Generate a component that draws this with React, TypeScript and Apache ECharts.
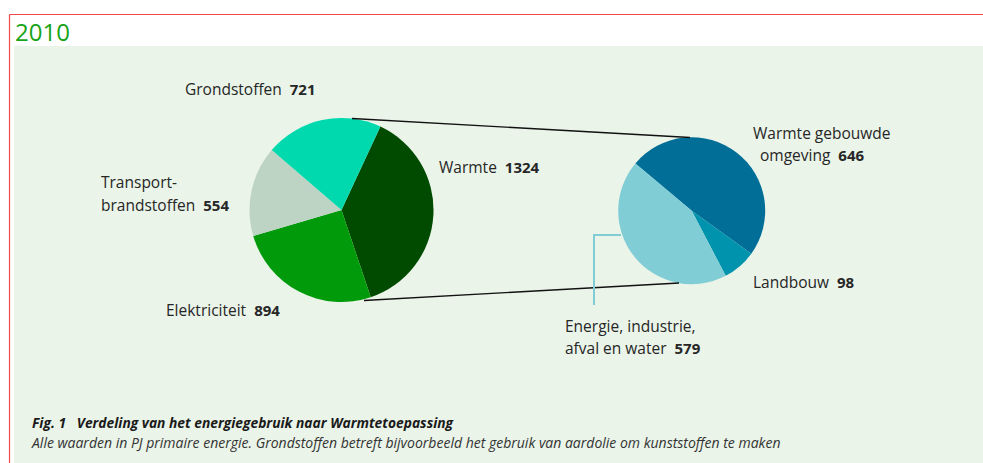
import React, { useEffect, useRef } from "react";
import * as echarts from "echarts";

// ---- data ----
const leftCategories = ["Warmte", "Elektriciteit", "Transportbrandstoffen", "Grondstoffen"];
const leftValues = [1324, 894, 554, 721];
const rightCategories = ["Warmte gebouwde omgeving", "Landbouw", "Energie, industrie, afval en water"];
const rightValues = [646, 98, 579];
// label lines (text split for display)
const leftLabelLines = [["Warmte"], ["Elektriciteit"], ["Transport-", "brandstoffen"], ["Grondstoffen"]];
const rightLabelLines = [["Warmte gebouwde", "omgeving"], ["Landbouw"], ["Energie, industrie,", "afval en water"]];
const titleText = "2010";
const captionTitle = "Fig. 1   Verdeling van het energiegebruik naar Warmtetoepassing";
const captionText =
  "Alle waarden in PJ primaire energie. Grondstoffen betreft bijvoorbeeld het gebruik van aardolie om kunststoffen te maken";

// ---- styles / layout ----
const leftColors = ["#004b00", "#009a0a", "#bdd3c4", "#00d9ae"];
const rightColors = ["#006e96", "#0093ad", "#80cdd6"];
const leftLabelPos = [
  [[439, 167]],
  [[166, 310]],
  [[101, 182], [101, 205]],
  [[185, 89]],
];
const rightLabelPos = [
  [[753, 133], [760, 155]],
  [[753, 282]],
  [[565, 326], [565, 348]],
];
const textColor = "#262626";
const labelFont = "'Open Sans', 'Noto Sans', sans-serif";

function labelGraphics(lines: string[][], values: number[], pos: number[][][]) {
  const out: any[] = [];
  lines.forEach((ls, i) => {
    ls.forEach((ln, j) => {
      const last = j === ls.length - 1;
      out.push({
        type: "text",
        x: pos[i][j][0],
        y: pos[i][j][1],
        silent: true,
        style: {
          text: last ? `{n|${ln}}{v|${values[i]}}` : `{n|${ln}}`,
          align: "left",
          verticalAlign: "middle",
          rich: {
            n: { fontFamily: labelFont, fontSize: 15.5, fill: textColor, padding: [0, 8, 0, 0] },
            v: { fontFamily: labelFont, fontSize: 15, fontWeight: "bold", fill: textColor },
          },
        },
      });
    });
  });
  return out;
}

export default function App() {
  const ref = useRef<HTMLDivElement>(null);
  useEffect(() => {
    if (!ref.current) return;
    const chart = echarts.init(ref.current, null, { renderer: "svg" });
    const option: any = {
      animation: false,
      backgroundColor: "#ffffff",
      graphic: [
        { type: "rect", z: -10, silent: true, shape: { x: 14, y: 46, width: 983, height: 430 }, style: { fill: "#eaf4e9" } },
        { type: "line", silent: true, shape: { x1: 9.5, y1: 14.5, x2: 990, y2: 14.5 }, style: { stroke: "#f24a4a", lineWidth: 1.2 } },
        { type: "line", silent: true, shape: { x1: 9.5, y1: 14.5, x2: 9.5, y2: 470 }, style: { stroke: "#f24a4a", lineWidth: 1.2 } },
        {
          type: "text", x: 15, y: 31, silent: true,
          style: { text: titleText, fontFamily: labelFont, fontSize: 24, fill: "#17a317", verticalAlign: "middle" },
        },
        { type: "line", silent: true, z: 5, shape: { x1: 352, y1: 118.5, x2: 690, y2: 137.5 }, style: { stroke: "#111", lineWidth: 1.3 } },
        { type: "line", silent: true, z: 5, shape: { x1: 364, y1: 300.5, x2: 679, y2: 283 }, style: { stroke: "#111", lineWidth: 1.3 } },
        {
          type: "polyline", silent: true, z: 5,
          shape: { points: [[621, 235], [594, 235], [594, 305]] },
          style: { stroke: "#80cdd6", lineWidth: 2, fill: null },
        },
        ...labelGraphics(leftLabelLines, leftValues, leftLabelPos),
        ...labelGraphics(rightLabelLines, rightValues, rightLabelPos),
        {
          type: "text", x: 32, y: 422, scaleX: 0.92, silent: true,
          style: {
            text: captionTitle, fontFamily: labelFont, fontSize: 15, fontWeight: "bold", fontStyle: "italic",
            fill: "#1a1a1a", verticalAlign: "middle",
          },
        },
        {
          type: "text", x: 32, y: 442, silent: true,
          style: {
            text: captionText, fontFamily: labelFont, fontSize: 14, fontStyle: "italic",
            fill: "#333333", verticalAlign: "middle",
          },
        },
      ],
      series: [
        {
          type: "pie",
          center: [341.5, 210],
          radius: 92,
          startAngle: 65,
          clockwise: true,
          silent: true,
          label: { show: false },
          labelLine: { show: false },
          itemStyle: { borderWidth: 0 },
          data: leftCategories.map((n, i) => ({ name: n, value: leftValues[i], itemStyle: { color: leftColors[i] } })),
        },
        {
          type: "pie",
          center: [691.7, 210.7],
          radius: 73.5,
          startAngle: 140,
          clockwise: true,
          silent: true,
          label: { show: false },
          labelLine: { show: false },
          itemStyle: { borderWidth: 0 },
          data: rightCategories.map((n, i) => ({ name: n, value: rightValues[i], itemStyle: { color: rightColors[i] } })),
        },
      ],
    };
    chart.setOption(option);
    return () => chart.dispose();
  }, []);
  return <div ref={ref} style={{ position: "absolute", left: 0, top: 0, width: 983, height: 463 }} />;
}
